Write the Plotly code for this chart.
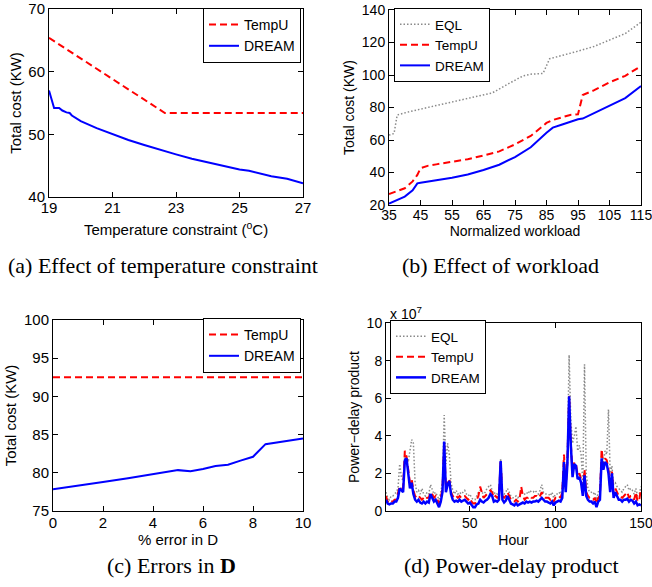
import plotly.graph_objects as go

W, H = 652, 587

# ---------------- (a) Effect of temperature constraint ----------------
temp_x_tempu = [19, 22.65, 27]
temp_tempu = [65.4, 53.4, 53.4]
temp_x_dream = [19, 19.08, 19.16, 19.32, 19.42, 19.55, 19.65, 19.72, 20.0, 20.5, 21.0, 21.5,
                22.0, 22.5, 23.0, 23.5, 24.0, 24.5, 25.0, 25.3, 25.6, 26.0, 26.5, 27.0]
temp_dream = [57.0, 55.5, 54.2, 54.2, 53.8, 53.5, 53.4, 53.0, 52.1, 51.0, 50.0, 49.1,
              48.3, 47.5, 46.8, 46.1, 45.5, 44.9, 44.4, 44.2, 43.8, 43.3, 42.9, 42.2]
temp_ticks = [19, 21, 23, 25, 27]

# ---------------- (b) Effect of workload ----------------
wl_x_eql = [35, 36.6, 37.6, 41.4, 50, 60, 67.8, 73.3, 76, 77.6, 80, 83.9, 86, 90, 94.5,
            100, 105.1, 110, 115]
wl_eql = [63, 64, 75.4, 77.4, 81.2, 85.6, 89, 95, 98, 99.5, 100.5, 101, 110, 112, 114.4,
          117.5, 121.5, 125.5, 132.5]
wl_x = [35, 37.5, 40, 42.5, 44, 45, 47.5, 50, 55, 60, 65, 70, 75, 80, 85, 87, 90, 92.5,
        95, 96.5, 100, 105, 110, 115]
wl_tempu = [26.8, 28.5, 30.3, 34.5, 38.5, 42.6, 44.2, 45.0, 46.5, 48.2, 50.5, 53.0, 57.3,
            62.5, 70.5, 72.3, 74.0, 75.4, 75.8, 87.7, 90.5, 95.5, 99.5, 105.5]
wl_dream = [20.8, 22.8, 25.2, 29.0, 33.3, 33.7, 34.3, 35.3, 36.8, 38.8, 41.5, 44.8, 49.5,
            55.5, 64.5, 67.6, 69.5, 71.0, 72.8, 73.2, 76.5, 81.0, 85.8, 93.2]
wl_ticks = [35, 45, 55, 65, 75, 85, 95, 105, 115]

# ---------------- (c) Errors in D ----------------
err_x = [0, 1, 2, 3, 4, 5, 5.5, 6, 6.5, 7, 7.5, 8, 8.5, 9, 10]
err_tempu = [92.5] * len(err_x)
err_dream = [77.85, 78.3, 78.8, 79.3, 79.8, 80.35, 80.2, 80.5, 80.9, 81.05, 81.6, 82.1,
             83.75, 84.0, 84.5]

# ---------------- (d) Power-delay product (units of 1e7) ----------------
hours = list(range(1, 151))
pdp_dream = [0.6, 0.4, 0.35, 0.4, 0.4, 0.5, 0.5, 0.7, 1.2, 1.1,
             1.0, 2.7, 2.8, 2.0, 1.2, 1.5, 0.9, 0.6, 0.5, 0.6,
             0.45, 0.4, 0.5, 0.4, 0.5, 0.45, 0.9, 0.7, 0.5, 0.6,
             0.4, 0.2, 0.5, 1.0, 3.7, 1.0, 1.4, 1.6, 0.9, 0.6,
             0.5, 0.55, 0.5, 0.6, 0.5, 0.55, 0.6, 0.5, 0.4, 0.45,
             0.3, 0.2, 0.2, 0.35, 0.4, 0.6, 0.5, 0.45, 0.55, 0.6,
             0.7, 0.9, 0.8, 0.5, 0.55, 0.5, 0.6, 2.65, 0.6, 0.45,
             0.55, 0.8, 0.6, 0.4, 0.35, 0.3, 0.4, 0.3, 0.35, 0.4,
             0.45, 0.4, 0.5, 0.45, 0.5, 0.45, 0.5, 0.5, 0.55, 0.5,
             0.6, 0.7, 0.6, 0.5, 0.5, 0.45, 0.4, 0.5, 0.3, 0.45,
             0.5, 0.55, 0.5, 0.7, 2.6, 1.0, 2.5, 6.1, 3.5, 1.8,
             2.5, 2.4, 1.7, 1.8, 1.5, 0.8, 1.9, 0.8, 0.6, 0.5,
             0.5, 0.4, 0.5, 0.2, 0.5, 0.6, 2.8, 2.2, 2.6, 2.5,
             2.0, 1.0, 2.0, 0.7, 1.0, 0.8, 0.6, 0.6, 0.5, 0.6,
             0.6, 0.65, 0.5, 0.6, 0.55, 0.4, 0.5, 0.3, 0.35, 0.3]
pdp_tempu = [0.8, 0.5, 0.4, 0.5, 0.5, 0.6, 0.6, 0.9, 1.3, 1.2,
             1.2, 3.2, 2.9, 2.2, 1.5, 1.7, 1.1, 0.8, 0.7, 0.8,
             0.7, 0.6, 0.7, 0.6, 0.7, 0.7, 1.0, 0.9, 0.7, 0.8,
             0.6, 0.4, 0.7, 1.2, 3.6, 1.2, 1.6, 1.7, 1.0, 0.8,
             0.7, 0.8, 0.7, 0.8, 0.7, 0.8, 0.8, 0.7, 0.6, 0.7,
             0.5, 0.4, 0.4, 0.6, 0.8, 1.3, 1.0, 0.7, 0.8, 0.9,
             1.0, 1.1, 1.0, 0.7, 0.8, 0.7, 0.8, 2.7, 0.8, 0.7,
             0.8, 1.0, 0.8, 0.6, 0.5, 0.5, 0.6, 0.5, 0.6, 1.3,
             0.8, 0.6, 0.7, 0.7, 0.8, 0.7, 0.7, 0.8, 0.8, 0.7,
             0.8, 1.0, 0.8, 0.7, 0.7, 0.7, 0.6, 0.7, 0.5, 0.7,
             0.7, 0.8, 0.7, 1.0, 3.0, 1.2, 2.7, 6.1, 3.6, 2.0,
             2.6, 2.5, 1.9, 2.0, 1.7, 1.0, 2.2, 1.0, 0.8, 0.7,
             0.7, 0.6, 0.7, 0.4, 0.7, 0.8, 3.3, 2.4, 2.8, 2.7,
             2.2, 1.2, 2.1, 0.9, 1.2, 1.0, 0.8, 0.8, 0.7, 0.8,
             0.9, 1.0, 0.7, 0.8, 0.8, 0.6, 1.0, 0.5, 0.6, 1.2]
pdp_eql = [1.0, 0.7, 0.6, 0.8, 0.8, 0.9, 1.0, 1.2, 2.5, 1.8,
           1.6, 3.0, 2.8, 2.6, 3.2, 3.8, 3.6, 1.5, 1.0, 1.1,
           0.9, 1.2, 0.9, 0.8, 1.0, 0.9, 1.4, 1.1, 0.9, 1.0,
           0.8, 0.6, 1.0, 1.5, 5.1, 2.5, 3.6, 3.0, 1.5, 1.1,
           0.9, 1.1, 0.9, 1.0, 0.9, 1.0, 1.1, 0.9, 0.8, 0.9,
           0.7, 0.6, 0.6, 0.8, 1.0, 1.1, 1.0, 0.9, 1.0, 1.2,
           1.3, 1.4, 1.1, 0.9, 1.0, 0.9, 1.0, 2.8, 1.0, 0.9,
           1.0, 1.2, 1.0, 0.8, 0.7, 0.7, 0.8, 0.7, 0.8, 1.0,
           1.0, 0.9, 1.0, 0.9, 1.1, 1.0, 1.0, 1.1, 1.0, 0.9,
           1.1, 1.4, 1.0, 0.9, 0.9, 0.9, 0.8, 1.0, 0.7, 0.9,
           0.9, 1.0, 0.9, 1.2, 2.8, 1.5, 3.0, 8.3, 4.8, 3.6,
           4.0, 4.5, 3.2, 3.5, 3.0, 1.5, 7.8, 2.0, 1.2, 1.0,
           1.0, 0.9, 1.0, 0.6, 1.0, 1.2, 3.0, 2.6, 3.2, 3.0,
           5.4, 2.0, 2.4, 1.4, 1.5, 1.3, 1.2, 1.1, 1.0, 1.2,
           1.3, 1.4, 1.1, 1.2, 1.1, 0.9, 1.2, 0.8, 0.9, 1.3]

RED = "#ff0000"
BLUE = "#0000ff"
GRAY = "#8a8a8a"
SANS = "Liberation Sans, Arial, sans-serif"
SERIF = "Liberation Serif, Times New Roman, serif"
DASH = "7px,4px"
DOT = "1.5px,2px"


def px_dom_x(a, b):
    return [a / W, b / W]


def px_dom_y(top, bottom):
    return [1 - bottom / H, 1 - top / H]


fig = go.Figure()

# (a)
fig.add_trace(go.Scatter(x=temp_x_tempu, y=temp_tempu, mode="lines", name="TempU",
                         line=dict(color=RED, width=2, dash=DASH),
                         xaxis="x", yaxis="y", legend="legend"))
fig.add_trace(go.Scatter(x=temp_x_dream, y=temp_dream, mode="lines", name="DREAM",
                         line=dict(color=BLUE, width=2),
                         xaxis="x", yaxis="y", legend="legend"))
# (b)
fig.add_trace(go.Scatter(x=wl_x_eql, y=wl_eql, mode="lines", name="EQL",
                         line=dict(color=GRAY, width=1.5, dash=DOT),
                         xaxis="x2", yaxis="y2", legend="legend2"))
fig.add_trace(go.Scatter(x=wl_x, y=wl_tempu, mode="lines", name="TempU",
                         line=dict(color=RED, width=2, dash=DASH),
                         xaxis="x2", yaxis="y2", legend="legend2"))
fig.add_trace(go.Scatter(x=wl_x, y=wl_dream, mode="lines", name="DREAM",
                         line=dict(color=BLUE, width=2),
                         xaxis="x2", yaxis="y2", legend="legend2"))
# (c)
fig.add_trace(go.Scatter(x=err_x, y=err_tempu, mode="lines", name="TempU",
                         line=dict(color=RED, width=2, dash=DASH),
                         xaxis="x3", yaxis="y3", legend="legend3"))
fig.add_trace(go.Scatter(x=err_x, y=err_dream, mode="lines", name="DREAM",
                         line=dict(color=BLUE, width=2),
                         xaxis="x3", yaxis="y3", legend="legend3"))
# (d)
fig.add_trace(go.Scatter(x=hours, y=pdp_eql, mode="lines", name="EQL",
                         line=dict(color=GRAY, width=1.5, dash=DOT),
                         xaxis="x4", yaxis="y4", legend="legend4"))
fig.add_trace(go.Scatter(x=hours, y=pdp_tempu, mode="lines", name="TempU",
                         line=dict(color=RED, width=2, dash=DASH),
                         xaxis="x4", yaxis="y4", legend="legend4"))
fig.add_trace(go.Scatter(x=hours, y=pdp_dream, mode="lines", name="DREAM",
                         line=dict(color=BLUE, width=2.5),
                         xaxis="x4", yaxis="y4", legend="legend4"))


def ax(domain, rng, tickvals, size, title, standoff, anchor, lblstand=0):
    return dict(domain=domain, range=rng, tickvals=tickvals, showline=True,
                linecolor="black", linewidth=1, mirror="ticks", ticks="inside",
                ticklen=5, tickcolor="black", showgrid=False, zeroline=False,
                tickfont=dict(family=SANS, size=size, color="black"),
                ticklabeloverflow="allow", ticklabelstandoff=lblstand,
                title=dict(text=title, standoff=standoff,
                           font=dict(family=SANS, size=size, color="black")),
                anchor=anchor, automargin=False)


def leg(x, y, size, xanchor="left"):
    return dict(x=x / W, y=1 - y / H, xanchor=xanchor, yanchor="top",
                bordercolor="black", borderwidth=1, bgcolor="white",
                font=dict(family=SANS, size=size, color="black"),
                tracegroupgap=0, itemwidth=30)


layout = dict(
    width=W, height=H, margin=dict(l=0, r=0, t=0, b=0),
    paper_bgcolor="white", plot_bgcolor="white", showlegend=True,
    xaxis=ax(px_dom_x(49, 303), [19, 27], temp_ticks, 15,
             "Temperature constraint (<sup>o</sup>C)", 9, "y", -3),
    yaxis=ax(px_dom_y(9, 197), [40, 70], [40, 50, 60, 70], 15, "Total cost (KW)", 3, "x"),
    xaxis2=ax(px_dom_x(389, 641), [35, 115], wl_ticks, 14, "Normalized workload", 0, "y2", -3),
    yaxis2=ax(px_dom_y(10, 205), [20, 140], [20, 40, 60, 80, 100, 120, 140], 14,
              "Total cost (KW)", 3, "x2"),
    xaxis3=ax(px_dom_x(53, 303), [0, 10], [0, 2, 4, 6, 8, 10], 15, "% error in D", 0, "y3", -2),
    yaxis3=ax(px_dom_y(320, 511), [75, 100], [75, 80, 85, 90, 95, 100], 15,
              "Total cost (KW)", 3, "x3"),
    xaxis4=ax(px_dom_x(386, 641), [1, 150], [50, 100, 150], 14, "Hour", 5, "y4", -1),
    yaxis4=ax(px_dom_y(323, 511), [0, 10], [0, 2, 4, 6, 8, 10], 14,
              "Power\u2212delay product", 3, "x4"),
    legend=leg(301, 8, 14, "right"),
    legend2=leg(394, 8, 13.5),
    legend3=leg(301, 318, 14, "right"),
    legend4=leg(390, 320, 13.5),
)
fig.update_layout(**layout)

caps = [("(a) Effect of temperature constraint", 163, 265),
        ("(b) Effect of workload", 500, 265),
        ("(c) Errors in <b>D</b>", 171, 565),
        ("(d) Power-delay product", 511, 565)]
for text, cx, cy in caps:
    fig.add_annotation(text=text, x=cx / W, y=1 - cy / H, xref="paper", yref="paper",
                       showarrow=False, xanchor="center", yanchor="middle",
                       font=dict(family=SERIF, size=22, color="black"))

fig.add_annotation(text="x 10<sup>7</sup>", x=388 / W, y=1 - 313 / H, xref="paper",
                   yref="paper", showarrow=False, xanchor="left", yanchor="middle",
                   font=dict(family=SANS, size=14, color="black"))

fig.write_html("out.html", config={"displayModeBar": False},
               post_script="document.body.style.margin='0';document.body.style.overflow='hidden';")
